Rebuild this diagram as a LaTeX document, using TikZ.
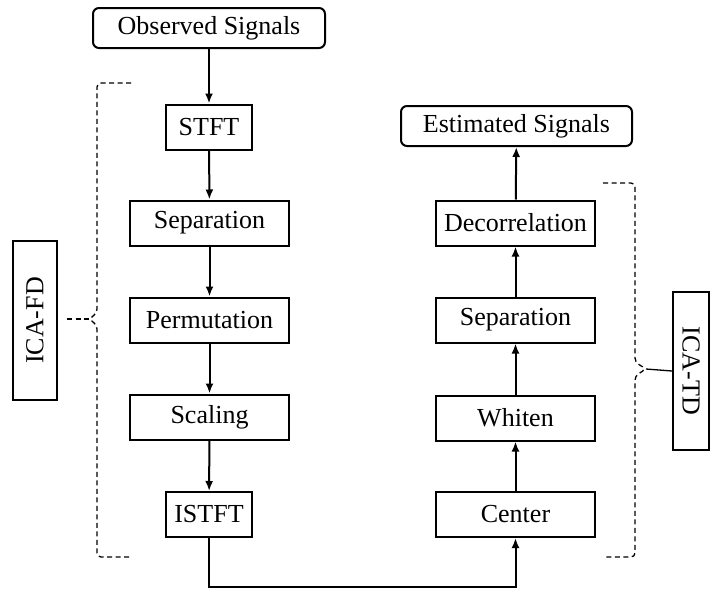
\documentclass[tikz,border=0pt]{standalone}
\usepackage{fontspec}
\setmainfont{Liberation Serif}
\usetikzlibrary{arrows.meta}
\begin{document}
\begin{tikzpicture}[x=1pt,y=-1pt,
  every node/.style={font=\fontsize{26}{30}\selectfont, inner sep=0pt},
  stepbox/.style={draw, line width=2pt, minimum height=45pt},
  wide/.style={stepbox, minimum width=159pt},
  narrow/.style={stepbox, minimum width=86pt},
  terminal/.style={draw, line width=2pt, rounded corners=6pt, minimum height=40pt},
  sidebox/.style={draw, line width=2pt},
  arr/.style={line width=2pt, -{Latex[length=10pt,width=8pt]}},
  brace/.style={dash pattern=on 5pt off 3.5pt, line width=1.3pt, rounded corners=4pt}
]
\useasboundingbox (0,0) rectangle (712,589);

% input / output terminals
\node[terminal, minimum width=232pt] (obs) at (209,28) {Observed Signals};
\node[terminal, minimum width=231pt] (est) at (516.5,126) {Estimated Signals};

% frequency-domain chain
\node[narrow] (stft)  at (209,127)   {STFT};
\node[wide]   (sepf)  at (209.5,223) {Separation};
\node[wide]   (perm)  at (209.5,320) {Permutation};
\node[wide]   (scal)  at (209.5,417) {Scaling};
\node[narrow] (istft) at (209,514.5) {ISTFT};

% time-domain chain
\node[wide] (dec)  at (515.5,223)   {Decorrelation};
\node[wide] (sept) at (515.5,320)   {Separation};
\node[wide] (whi)  at (515.5,418)   {Whiten};
\node[wide] (cen)  at (515.5,514.5) {Center};

% group labels
\node[sidebox, rotate=90, minimum width=159pt, minimum height=44pt] (fd) at (35,320.5) {ICA-FD};
\node[sidebox, rotate=-90, minimum width=158pt, minimum height=36pt] (td) at (691,371) {ICA-TD};

% flow
\draw[arr] (obs.south -| stft) -- (stft.north);
\draw[arr] (stft) -- (sepf);
\draw[arr] (sepf) -- (perm);
\draw[arr] (perm) -- (scal);
\draw[arr] (scal) -- (istft);
\draw[arr] (istft.south) -- ++(0,49) -| (cen.south);
\draw[arr] (cen) -- (whi);
\draw[arr] (whi) -- (sept);
\draw[arr] (sept) -- (dec);
\draw[arr] (dec) -- (est);

% left brace grouping the frequency-domain steps
\coordinate (fdtip) at (89,319);
\coordinate (fdend) at (67,319);
\draw[brace] (131,83) -- (97,83) -- (97,313) -- (fdtip) -- (97,325) -- (97,557) -- (131,557);
\draw[brace, rounded corners=0pt] (fdend) -- (fdtip);

% right brace grouping the time-domain steps
\coordinate (tdtip) at (646,369);
\draw[brace] (603,183) -- (635,183) -- (635,362) -- (tdtip) -- (635,376) -- (635,557) -- (603,557);
\draw[line width=1.3pt] (tdtip) -- (td.south);
\end{tikzpicture}
\end{document}
